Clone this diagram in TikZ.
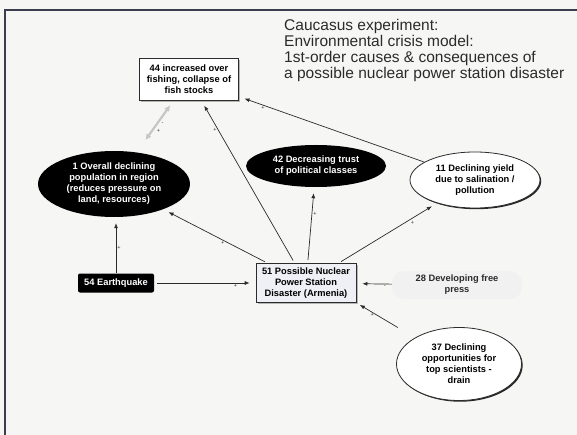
\documentclass[tikz,border=0pt]{standalone}
\usepackage{fontspec}
\setmainfont{Liberation Sans}
\usepackage{tikz}
\usetikzlibrary{shapes.geometric}
\usetikzlibrary{arrows.meta, shadows}
\definecolor{paper}{HTML}{F6F6F4}
\definecolor{frame}{HTML}{3C3E50}
\definecolor{ink}{HTML}{2B2B2B}
\definecolor{nps}{HTML}{EEF0F6}
\tikzset{heading/.style = {font = \fontsize{15.5}{16}\selectfont, align = left, inner sep = 0, text = ink}}
\tikzset{lbl/.style = {font = \fontsize{9.3}{11}\selectfont\bfseries, align = center, inner sep = 0}}
\tikzset{wbox/.style = {lbl, draw = ink, fill = white, line width = 0.7,
    drop shadow = {shadow xshift = 1.8pt, shadow yshift = -1.8pt, fill = gray!70, opacity = 0.8}}}
\tikzset{bbox/.style = {lbl, fill = black, text = white, rounded corners = 2}}
\tikzset{bovl/.style = {lbl, ellipse, fill = black, text = white}}
\tikzset{wovl/.style = {lbl, ellipse, draw = ink, fill = white, line width = 0.8,
    drop shadow = {shadow xshift = 1.2pt, shadow yshift = -1.2pt, fill = black!85, opacity = 1}}}
\tikzset{haze/.style = {lbl, fill = gray!11, rounded corners = 12, text = ink}}
\tikzset{link/.style = {draw = ink, line width = 0.7, -{Latex[length = 5pt, width = 4pt]}, shorten > = 6pt}}
\tikzset{sgn/.style = {font = \fontsize{5.5}{5.5}\selectfont, inner sep = 1, text = ink}}

\begin{document}
\begin{tikzpicture}[x = 1pt, y = -1pt]
      \useasboundingbox (0, 0) rectangle (577, 435);
      \fill [paper] (0, 0) rectangle (577, 435);
      \draw [frame, line width = 2] (5, 436) -- (5, 10) -- (578, 10);

      \node [heading, anchor = north west] (head) at (284, 19.5)
        {Caucasus experiment:\\Environmental crisis model:\\1st-order causes \& consequences of\\a possible nuclear power station disaster};

      \node [wbox, minimum width = 99, minimum height = 42] (fish) at (189, 79) {44 increased over\\fishing, collapse of\\fish stocks};
      \node [bovl, minimum width = 152, minimum height = 66] (pop) at (114, 184) {1 Overall declining\\population in region\\(reduces pressure on\\land, resources)};
      \node [bovl, minimum width = 140, minimum height = 42] (trust) at (316, 166) {42 Decreasing trust\\of political classes};
      \node [wovl, minimum width = 130, minimum height = 56] (yield) at (475, 180) {11 Declining yield\\due to salination /\\pollution};
      \node [bbox, minimum width = 76, minimum height = 19] (quake) at (116, 283) {54 Earthquake};
      \node [wbox, fill = nps, minimum width = 100, minimum height = 39] (nps) at (306, 283) {51 Possible Nuclear\\Power Station\\Disaster (Armenia)};
      \node [haze, minimum width = 130, minimum height = 28] (press) at (457, 285) {28 Developing free\\press};
      \node [wovl, minimum width = 125, minimum height = 73] (drain) at (459, 364) {37 Declining\\opportunities for\\top scientists -\\drain};

      % faint two-way link
      \draw [gray!45, line width = 2.2, {Latex[length = 6pt, width = 6pt]}-{Latex[length = 6pt, width = 6pt]},
        shorten < = 15pt, shorten > = 6pt] (pop) -- (fish)
        node [sgn, pos = 0.56, anchor = west, xshift = 2] {-}
        node [sgn, pos = 0.41, anchor = west, xshift = 3] {+};

      \draw [link] (quake.north) -- (quake.north |- pop.south) node [sgn, pos = 0.45, anchor = west] {+};
      \draw [link, shorten < = 3pt] (quake) -- (nps) node [sgn, pos = 0.8, anchor = north] {+};

      \foreach \t/\p/\a in {pop/0.43/north, fish/0.82/east, trust/0.65/west, yield/0.72/north west} {
        \draw [link, shorten < = 3pt] (nps) -- (\t) node [sgn, pos = \p, anchor = \a] {+};
      }

      \draw [link] (yield) -- (fish) node [sgn, pos = 0.87, anchor = north] {+};
      \draw [link] (press) -- (nps) node [sgn, pos = 0.2, anchor = north] {-};
      \draw [link, shorten < = 20pt, shorten > = 4pt] (drain) -- (nps.south east) node [sgn, pos = 0.73, anchor = north] {+};
    \end{tikzpicture}
\end{document}
